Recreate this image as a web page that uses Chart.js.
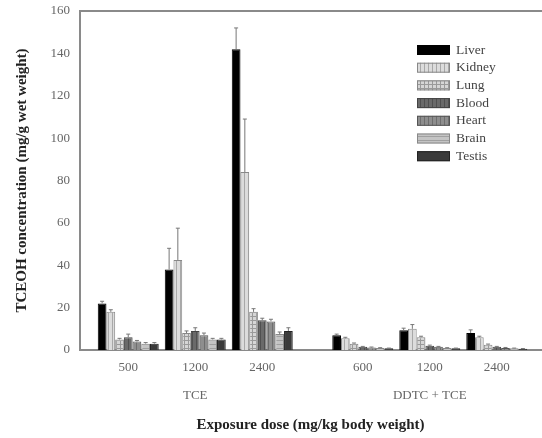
<!DOCTYPE html>
<html lang="en">
<head>
    <meta charset="UTF-8">
    <title>TCEOH concentration</title>
    <script src="https://cdn.jsdelivr.net/npm/chart.js"></script>
    <style>
        body {
            margin: 0;
            padding: 0;
            background: #fff;
        }
        #chart {
            display: block;
        }
    </style>
</head>
<body>
<canvas id="chart" width="542" height="438"></canvas>

<script>
    // group positions on the x axis (half a slot gap between TCE and DDTC + TCE)
    const groupX = [1, 2, 3, 4.5, 5.5, 6.5];
    const doseLabels = ['500', '1200', '2400', '600', '1200', '2400'];
    const treatLabels = ['', 'TCE', '', '', 'DDTC + TCE', ''];
    const yTicks = [0, 20, 40, 60, 80, 100, 120, 140, 160];

    const tissues = ['Liver', 'Kidney', 'Lung', 'Blood', 'Heart', 'Brain', 'Testis'];

    const liver = [22, 38, 142, 7, 9.3, 8];
    const kidney = [18, 42.5, 84, 5.5, 10, 6];
    const lung = [5, 8, 18, 3, 6, 2.5];
    const blood = [6, 9, 14, 1.5, 2, 1.5];
    const heart = [4, 7, 13.5, 1.2, 1.5, 1];
    const brain = [3, 5, 7.5, 1, 1, 0.8];
    const testis = [3, 5, 9, 0.8, 0.8, 0.6];

    const liverErr = [1, 10, 10, 0.5, 1, 1.5];
    const kidneyErr = [1, 15, 25, 0.5, 2, 0.5];
    const lungErr = [0.5, 1, 1.5, 0.3, 0.5, 0.3];
    const bloodErr = [1.5, 1.5, 1, 0.2, 0.3, 0.2];
    const heartErr = [0.5, 1, 1, 0.2, 0.2, 0.2];
    const brainErr = [0.5, 0.5, 1, 0.1, 0.1, 0.1];
    const testisErr = [0.5, 0.5, 1.5, 0.1, 0.1, 0.1];

    const seriesValues = [liver, kidney, lung, blood, heart, brain, testis];
    const seriesErrors = [liverErr, kidneyErr, lungErr, bloodErr, heartErr, brainErr, testisErr];

    const serif = "'Liberation Serif', 'DejaVu Serif', serif";

    // small striped fills, like the hatched bars of the original
    function makePattern(base, line, kind) {
        const c = document.createElement('canvas');
        c.width = 4;
        c.height = 4;
        const g = c.getContext('2d');
        g.fillStyle = base;
        g.fillRect(0, 0, 4, 4);
        g.fillStyle = line;
        if (kind === 'v' || kind === 'grid') g.fillRect(0, 0, 1, 4);
        if (kind === 'h' || kind === 'grid') g.fillRect(0, 0, 4, 1);
        return g.createPattern(c, 'repeat');
    }

    const fills = [
        '#000000',
        makePattern('#dcdcdc', '#a8a8a8', 'v'),
        makePattern('#d6d6d6', '#9a9a9a', 'grid'),
        makePattern('#6a6a6a', '#505050', 'v'),
        makePattern('#8e8e8e', '#6e6e6e', 'v'),
        makePattern('#c4c4c4', '#a0a0a0', 'h'),
        '#3a3a3a'
    ];
    const edges = ['#000', '#888', '#888', '#444', '#555', '#888', '#222'];

    const datasets = tissues.map((name, k) => ({
        label: name,
        data: groupX.map((x, i) => ({x: x, y: seriesValues[k][i]})),
        errors: seriesErrors[k],
        backgroundColor: fills[k],
        borderColor: edges[k],
        borderWidth: 1,
        categoryPercentage: 0.91,
        barPercentage: 1.0
    }));

    const errorBars = {
        id: 'errorBars',
        afterDatasetsDraw(chart) {
            const ctx = chart.ctx;
            const y = chart.scales.y;
            ctx.save();
            ctx.strokeStyle = '#777';
            ctx.lineWidth = 1;
            chart.data.datasets.forEach((ds, k) => {
                const meta = chart.getDatasetMeta(k);
                meta.data.forEach((bar, i) => {
                    const v = ds.data[i].y;
                    const top = y.getPixelForValue(v + ds.errors[i]);
                    const base = y.getPixelForValue(v);
                    ctx.beginPath();
                    ctx.moveTo(bar.x, base);
                    ctx.lineTo(bar.x, top);
                    ctx.moveTo(bar.x - 2, top);
                    ctx.lineTo(bar.x + 2, top);
                    ctx.stroke();
                });
            });
            ctx.restore();
        }
    };

    const frameAndLegend = {
        id: 'frameAndLegend',
        afterDraw(chart) {
            const ctx = chart.ctx;
            const area = chart.chartArea;
            ctx.save();
            // top frame line
            ctx.strokeStyle = '#8a8a8a';
            ctx.lineWidth = 2;
            ctx.beginPath();
            ctx.moveTo(area.left, area.top);
            ctx.lineTo(area.right + 1, area.top);
            ctx.stroke();

            // legend in the upper right
            const boxX = 417, boxW = 33, boxH = 10;
            let rowY = 50;
            ctx.font = '13.5px ' + serif;
            ctx.textBaseline = 'middle';
            chart.data.datasets.forEach((ds, k) => {
                ctx.fillStyle = ds.backgroundColor;
                ctx.fillRect(boxX, rowY - boxH / 2, boxW, boxH);
                ctx.strokeStyle = ds.borderColor;
                ctx.lineWidth = 1;
                ctx.strokeRect(boxX + 0.5, rowY - boxH / 2 + 0.5, boxW - 1, boxH - 1);
                ctx.fillStyle = '#444';
                ctx.fillText(ds.label, boxX + boxW + 6, rowY);
                rowY += 17.7;
            });
            ctx.restore();
        }
    };

    new Chart(document.getElementById('chart'), {
        type: 'bar',
        data: {datasets: datasets},
        options: {
            responsive: false,
            animation: false,
            layout: {padding: {top: 11, right: 1, left: 0, bottom: 0}},
            plugins: {
                legend: {display: false},
                tooltip: {enabled: false}
            },
            scales: {
                x: {
                    type: 'linear',
                    offset: false,
                    min: 0.28,
                    max: 7.16,
                    afterFit: s => { s.height = 88; },
                    afterBuildTicks: s => { s.ticks = groupX.map(v => ({value: v})); },
                    grid: {display: false, drawTicks: false},
                    border: {color: '#8a8a8a', width: 2},
                    ticks: {
                        padding: 10,
                        autoSkip: false,
                        maxRotation: 0,
                        color: '#666',
                        font: {family: serif, size: 13, lineHeight: 1.1},
                        callback: (v, i) => treatLabels[i] ? [doseLabels[i], '', treatLabels[i]] : doseLabels[i]
                    },
                    title: {
                        display: true,
                        text: 'Exposure dose (mg/kg body weight)',
                        color: '#222',
                        padding: {bottom: 4},
                        font: {family: serif, size: 15, weight: 'bold'}
                    }
                },
                y: {
                    min: 0,
                    max: 160,
                    afterFit: s => { s.width = 80; s.paddingTop = 0; s.paddingBottom = 0; },
                    afterBuildTicks: s => { s.ticks = yTicks.map(v => ({value: v})); },
                    grid: {display: false, drawTicks: true, tickLength: 4, tickColor: '#8a8a8a'},
                    border: {color: '#8a8a8a', width: 2},
                    ticks: {
                        padding: 6,
                        color: '#666',
                        font: {family: serif, size: 13}
                    },
                    title: {
                        display: true,
                        text: 'TCEOH concentration (mg/g wet weight)',
                        color: '#222',
                        padding: {top: 13},
                        font: {family: serif, size: 15, weight: 'bold'}
                    }
                }
            }
        },
        plugins: [errorBars, frameAndLegend]
    });
</script>
</body>
</html>
